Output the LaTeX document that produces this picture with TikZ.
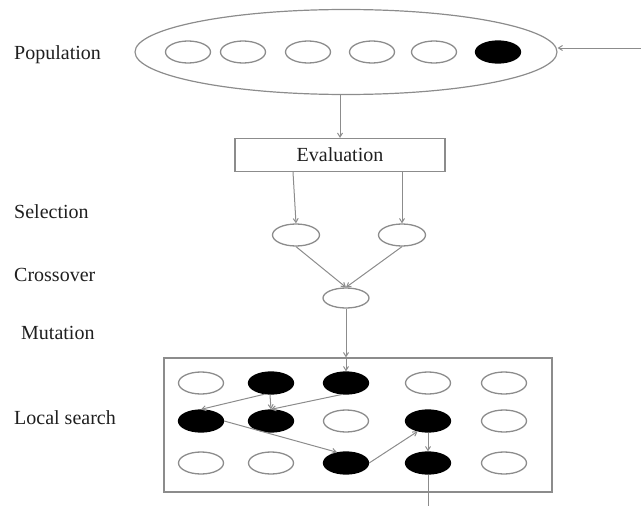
\documentclass[tikz,border=0pt]{standalone}
\usepackage{fontspec}
\setmainfont{Liberation Serif}
\usetikzlibrary{shapes.geometric,arrows.meta}
\definecolor{ln}{gray}{0.55}
\definecolor{tx}{gray}{0.12}
\tikzset{
  x=1pt,y=-1pt,
  lbl/.style={anchor=west,inner sep=0,text=tx,font=\fontsize{20}{23}\selectfont},
  cell/.style={ellipse,draw=ln,line width=1.3pt,minimum width=45pt,minimum height=22pt,inner sep=0},
  full/.style={cell,draw=black,fill=black},
  conn/.style={draw=ln,line width=1pt,-{Straight Barb[length=4pt,width=5pt]}},
  plain/.style={draw=ln,line width=1pt}
}
\begin{document}
\begin{tikzpicture}
\useasboundingbox (0,0) rectangle (641,506);
% labels
\node[lbl] (lpop) at (14,55) {Population};
\node[lbl] (lsel) at (14,212) {Selection};
\node[lbl] (lcro) at (14,275) {Crossover};
\node[lbl] (lmut) at (21,333) {Mutation};
\node[lbl] (lloc) at (14,418) {Local search};
% population
\node[ellipse,draw=ln,line width=1.2pt,minimum width=422pt,minimum height=85pt,inner sep=0] (pop) at (346,52) {};
\node[cell] (p1) at (188,52) {};
\node[cell] (p2) at (243,52) {};
\node[cell] (p3) at (308,52) {};
\node[cell] (p4) at (372,52) {};
\node[cell] (p5) at (434,52) {};
\node[full] (p6) at (498,52) {};
\coordinate (in) at (641,48);
\draw[conn] (in) -- (pop.east |- in);
% evaluation
\node[draw=ln,line width=1.2pt,minimum width=210pt,minimum height=33pt,inner sep=0,text=tx,font=\fontsize{20}{23}\selectfont] (ev) at (340,155) {Evaluation};
\draw[conn] (pop.south -| ev.north) -- (ev.north);
% selection
\node[cell,minimum width=47pt] (s1) at (296,235) {};
\node[cell,minimum width=47pt] (s2) at (402,235) {};
\draw[conn] ([xshift=-47pt]ev.south) -- (s1.north);
\draw[conn] ([xshift=62pt]ev.south) -- (s2.north);
% crossover
\node[cell,minimum width=46pt,minimum height=20pt] (cx) at (346,298) {};
\draw[conn] (s1.south) -- (cx.north);
\draw[conn] (s2.south) -- (cx.north);
% local search box
\node[draw=ln,line width=1.2pt,minimum width=388pt,minimum height=134pt,inner sep=0] (box) at (358,425) {};
\draw[conn] (cx.south) -- (cx.south |- box.north);
% grid
\node[cell] (a11) at (201,383) {};
\node[full] (a12) at (271,383) {};
\node[full] (a13) at (346,383) {};
\node[cell] (a14) at (428,383) {};
\node[cell] (a15) at (504,383) {};
\node[full] (a21) at (201,421) {};
\node[full] (a22) at (271,421) {};
\node[cell] (a23) at (346,421) {};
\node[full] (a24) at (428,421) {};
\node[cell] (a25) at (504,421) {};
\node[cell] (a31) at (201,463) {};
\node[cell] (a32) at (271,463) {};
\node[full] (a33) at (346,463) {};
\node[full] (a34) at (428,463) {};
\node[cell] (a35) at (504,463) {};
\draw[conn] (a13.north |- box.north) -- (a13.north);
\draw[conn] (a12.240) -- (a21.north);
\draw[conn] (a12.265) -- (a22.north);
\draw[conn] (a13.250) -- (a22.north);
\draw[conn] (a21.east) -- (a33.130);
\draw[conn] (a33.east) -- (a24.225);
\draw[conn] (a24.south) -- (a34.north);
\coordinate (out) at (428,506);
\draw[plain] (a34.south) -- (out);
\end{tikzpicture}
\end{document}
